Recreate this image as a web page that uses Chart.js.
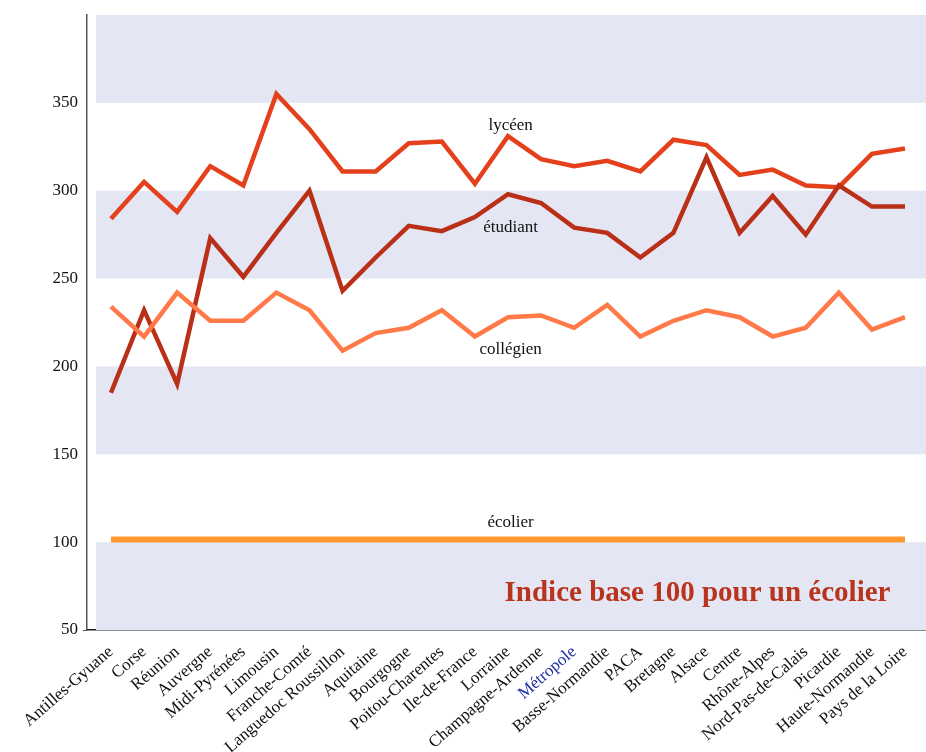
<!DOCTYPE html>
<html>
<head>
<meta charset="utf-8">
<script src="https://cdn.jsdelivr.net/npm/chart.js@4/dist/chart.umd.min.js"></script>
<style>
  html, body { margin: 0; padding: 0; background: #fff; }
  canvas { display: block; }
</style>
</head>
<body>
<canvas id="indexChart" width="926" height="752"></canvas>
<script>
// Regions, in the order of the reference
const regions = [
  'Antilles-Gyuane', 'Corse', 'Réunion', 'Auvergne', 'Midi-Pyrénées', 'Limousin',
  'Franche-Comté', 'Languedoc Roussillon', 'Aquitaine', 'Bourgogne', 'Poitou-Charentes',
  'Ile-de-France', 'Lorraine', 'Champagne-Ardenne', 'Métropole', 'Basse-Normandie',
  'PACA', 'Bretagne', 'Alsace', 'Centre', 'Rhône-Alpes', 'Nord-Pas-de-Calais',
  'Picardie', 'Haute-Normandie', 'Pays de la Loire'
];

const lyceen = [284, 305, 288, 314, 303, 355, 335, 311, 311, 327, 328, 304, 331, 318,
  314, 317, 311, 329, 326, 309, 312, 303, 302, 321, 324];
const etudiant = [185, 232, 190, 273, 251, 276, 300, 243, 262, 280, 277, 285, 298, 293,
  279, 276, 262, 276, 319, 276, 297, 275, 303, 291, 291];
const collegien = [234, 217, 242, 226, 226, 242, 232, 209, 219, 222, 232, 217, 228, 229,
  222, 235, 217, 226, 232, 228, 217, 222, 242, 221, 228];
const ecolier = regions.map(() => 101.5);

const yTicks = [50, 100, 150, 200, 250, 300, 350];
const bandRanges = [[50, 100], [150, 200], [250, 300], [350, 400]];

const serif = "'Liberation Serif', 'DejaVu Serif', serif";

const toPoints = (values) => values.map((v, i) => ({ x: i, y: v }));

function lineDataset(label, color, values, width) {
  return {
    label,
    data: toPoints(values),
    borderColor: color,
    backgroundColor: color,
    borderWidth: width,
    pointRadius: 0,
    tension: 0,
    borderJoinStyle: 'miter',
    borderCapStyle: 'butt',
  };
}

// Shaded horizontal bands behind the lines
const bandsPlugin = {
  id: 'bands',
  beforeDatasetsDraw(chart) {
    const { ctx, chartArea, scales } = chart;
    ctx.save();
    ctx.fillStyle = '#e4e7f3';
    bandRanges.forEach(([lo, hi]) => {
      const yTop = scales.y.getPixelForValue(hi);
      const yBot = scales.y.getPixelForValue(lo);
      ctx.fillRect(chartArea.left + 9, yTop, chartArea.right - chartArea.left - 9, yBot - yTop);
    });
    // small tick mark at the bottom of the value axis
    ctx.strokeStyle = '#555';
    ctx.lineWidth = 1;
    ctx.beginPath();
    ctx.moveTo(chartArea.left - 4, scales.y.getPixelForValue(50) + 0.5);
    ctx.lineTo(chartArea.left, scales.y.getPixelForValue(50) + 0.5);
    ctx.stroke();
    ctx.restore();
  },
};

// Series names and the note inside the plot
const labelsPlugin = {
  id: 'seriesLabels',
  afterDatasetsDraw(chart) {
    const { ctx, scales } = chart;
    const x = scales.x.getPixelForValue(12.08);
    ctx.save();
    ctx.fillStyle = '#111';
    ctx.font = `17px ${serif}`;
    ctx.textAlign = 'center';
    ctx.textBaseline = 'alphabetic';
    [['lycéen', 334.6], ['étudiant', 276.7], ['collégien', 207.1], ['écolier', 108.8]]
      .forEach(([text, v]) => ctx.fillText(text, x, scales.y.getPixelForValue(v)));

    ctx.fillStyle = '#b8341c';
    ctx.font = `bold 29px ${serif}`;
    ctx.textAlign = 'right';
    ctx.fillText('Indice base 100 pour un écolier', scales.x.getPixelForValue(23.56), scales.y.getPixelForValue(66.3));
    ctx.restore();
  },
};

new Chart(document.getElementById('indexChart'), {
  type: 'line',
  data: {
    datasets: [
      lineDataset('écolier', '#ff9933', ecolier, 6),
      lineDataset('collégien', '#ff7a48', collegien, 4.5),
      lineDataset('étudiant', '#b92f17', etudiant, 4.5),
      lineDataset('lycéen', '#e3401b', lyceen, 4.5),
    ],
  },
  options: {
    responsive: false,
    animation: false,
    layout: { padding: { top: 15, left: 0, right: 0, bottom: 0 } },
    plugins: {
      legend: { display: false },
      tooltip: { enabled: false },
    },
    scales: {
      x: {
        type: 'linear',
        min: -0.725,
        max: 24.635,
        grid: { display: false },
        border: { display: true, color: '#1a1a22', width: 1.5 },
        afterBuildTicks: (scale) => {
          scale.ticks = regions.map((_, i) => ({ value: i }));
        },
        afterFit: (scale) => { scale.height = 122; },
        ticks: {
          autoSkip: false,
          maxRotation: 41,
          minRotation: 41,
          padding: 4,
          font: { family: serif, size: 17 },
          color: (c) => (c.tick && c.tick.value === 14 ? '#1f2fa8' : '#111'),
          callback: (value) => regions[value],
        },
      },
      y: {
        min: 50,
        max: 400,
        grid: { display: false },
        border: { display: true, color: '#555', width: 1.5 },
        afterBuildTicks: (scale) => {
          scale.ticks = yTicks.map((v) => ({ value: v }));
        },
        afterFit: (scale) => { scale.width = 87; },
        ticks: {
          padding: 1,
          font: { family: serif, size: 17 },
          color: '#111',
        },
      },
    },
  },
  plugins: [bandsPlugin, labelsPlugin],
});
</script>
</body>
</html>
